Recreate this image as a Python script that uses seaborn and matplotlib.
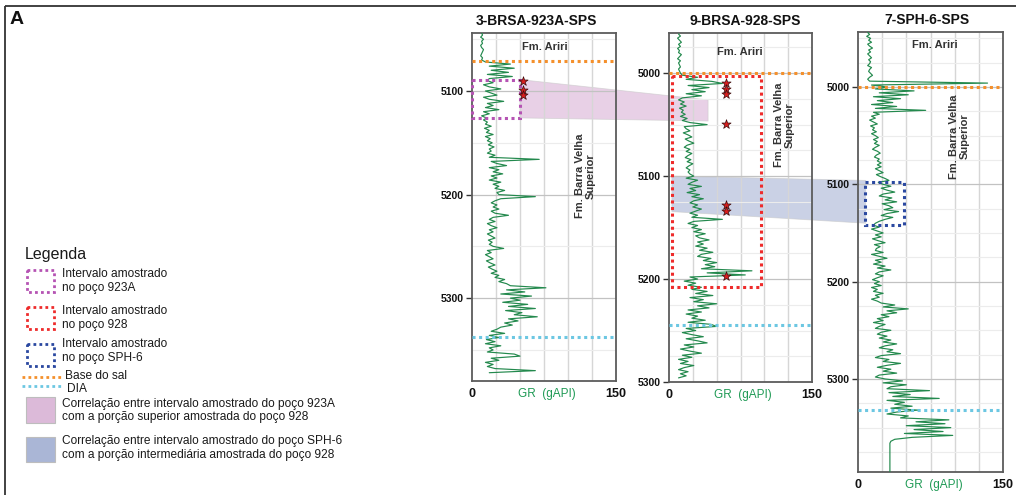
import numpy as np
import pandas as pd
import matplotlib
matplotlib.use("Agg")
import matplotlib.pyplot as plt
import seaborn as sns
from matplotlib.patches import Rectangle, Polygon
from matplotlib.ticker import FixedLocator, MultipleLocator

sns.set_theme(style="white")
plt.rcParams["font.family"] = ["Liberation Sans", "DejaVu Sans"]

# ---------------------------------------------------------------- data
well_names = ["3-BRSA-923A-SPS", "9-BRSA-928-SPS", "7-SPH-6-SPS"]
depth_step = 2.0

# GR (gAPI) sampled every 2 m from the first depth of each log
gr_923a_top = 5044
gr_923a = [10, 11, 9, 12, 10, 11, 9, 10, 12, 11, 10, 9, 11, 10,
           14, 40, 18, 44, 20, 38, 16, 42, 18,
           16, 22, 12, 18, 30, 14, 20, 26, 12, 18, 33, 16, 22, 14, 28, 12, 18, 10, 15,
           12, 16, 14, 20, 13, 18, 15, 22, 14, 19, 16, 21, 17, 23, 18,
           20, 16, 24, 18, 70, 20, 26, 36, 18, 28, 22, 32, 20, 26, 18, 30, 22, 28, 24, 34, 26, 28, 66, 30,
           24, 20, 26, 22, 28, 20, 24, 38,
           22, 18, 24, 16, 20, 26, 18, 22, 16, 20, 24, 17, 21,
           18, 22, 33, 16, 20, 14, 18, 22, 15, 19, 24, 17, 21, 26, 20, 28, 24, 34, 28, 36,
           40, 77, 36, 55, 30, 62, 40, 50, 32, 58, 38, 66, 35, 52, 44, 68, 38, 48, 34, 42, 30,
           26, 20, 34, 18, 28, 15, 24, 14, 30, 18, 22, 16, 44, 50, 20, 28, 14, 22, 16, 24, 66, 18]

gr_928_top = 4962
gr_928 = [10, 12, 9, 11, 13, 10, 12, 9, 11, 10, 13, 11, 9, 12, 10, 11, 12, 10, 11, 12,
          14, 30, 18, 45, 56, 20, 42, 24, 38, 18, 34,
          14, 10, 16, 12, 18, 11, 15, 13, 17, 12, 19, 14, 22, 40, 16,
          18, 22, 15, 20, 24, 17, 21, 26, 19, 16, 22, 18, 24, 20, 17, 23, 19, 25, 21, 18, 22, 20,
          22, 26, 18, 30, 24, 20, 34, 22, 28, 19, 32, 24, 36, 26, 22, 30, 25, 34,
          28, 22, 30, 24, 56, 26, 20, 30, 24, 34,
          26, 38, 28, 32, 42, 30, 36, 28, 40, 32,
          46, 34, 30, 44, 36, 50, 38, 48, 34, 87,
          40, 80, 22, 30, 16, 28, 20, 34, 24, 40,
          28, 46, 22, 36, 26, 50, 30, 42, 20, 34,
          18, 30, 24, 38, 20, 44, 50, 18, 28, 14,
          24, 36, 18, 30, 40, 16, 26, 12, 22, 34,
          14, 24, 10, 20, 12, 26, 16, 10, 20, 12,
          18, 10]

gr_sph6_top = 4944
gr_sph6 = [10, 12, 9, 13, 11, 14, 10, 12, 15, 11, 13, 10, 12, 14, 11, 13, 12, 10, 14, 12, 11, 13, 15, 12, 10, 12,
           134,
           14, 30, 18, 58, 22, 52, 16, 44, 20, 36, 14, 40, 18, 70, 16, 22,
           14, 18, 12, 16, 20, 13, 17, 15, 19, 14, 18, 21, 16, 20, 17, 22, 18, 15, 20, 23, 19, 17, 22, 20, 24,
           20, 24, 18, 22, 26, 19, 23, 28, 32, 21, 26, 34, 24, 30, 38, 26, 22, 35, 28, 40, 25, 32, 36, 27, 42,
           30, 24, 36, 28, 22, 18,
           16, 22, 14, 20, 26, 18, 24, 15, 21, 28, 17, 23, 19,
           18, 26, 14, 22, 30, 18, 24, 16, 28, 20,
           34, 22, 18, 26, 20, 15, 22, 17, 24, 14,
           20, 16, 26, 18, 22, 14, 20, 24, 38, 26,
           52, 30, 40, 24, 32, 20, 26, 16, 28, 22,
           18, 34, 24, 20, 30, 22, 34, 26, 40, 28,
           22, 36, 30, 44, 24, 18, 32, 26, 44, 30,
           20, 34, 26, 40, 22, 18, 28, 46, 26, 50,
           34, 30, 74, 32, 54, 36, 84, 30, 48, 38,
           56, 34, 62, 40, 30, 52, 44, 94, 60, 90,
           50, 96, 58, 88, 48, 98, 56, 38, 34, 33,
           33, 33, 33, 33, 33, 33, 33, 33, 33, 33, 33, 33, 33, 33, 33, 33]

# depth window shown for each well (top, base), m
depth_window = [(5044, 5380), (4961, 5300), (4943.5, 5395.6)]
# formation tops: base of salt and DIA, m
base_sal = [5071, 5000, 5000]
dia = [5338, 5245, 5332]
# sampled intervals: GR from, GR to, depth top, depth base
sampled = [(0, 50, 5089, 5126), (3, 96, 5003, 5208), (7, 48, 5098, 5142)]
sampled_colors = ["#b553b3", "#ee2b2b", "#2a48a0"]
# sample positions (stars)
stars_923a_depth = [5090, 5099, 5104]
stars_923a_gr = [53, 53, 53]
stars_928_depth = [5010, 5015.5, 5020.5, 5049.5, 5128, 5133.5, 5197]
stars_928_gr = [60, 60, 60, 60, 60, 60, 60]
# formation labels: (GR, depth) of text centres
ariri_pos = [(76, 5057.5), (74.5, 4979.7), (79.6, 4956.8)]
bv_pos = [(118, 5182), (120.6, 5050), (104.4, 5051)]
minor_step = [50, 25, 25]
title_x = [0.445, 0.53, 0.478]
# correlations: (well, GR, top, base) -> (well, GR, top, base)
corr_pink = ((0, 50, 5089, 5126), (1, 41, 5026, 5046.5))
corr_blue = ((1, 3, 5100, 5134.5), (2, 8, 5096, 5140))

# ---------------------------------------------------------------- figure
W, H = 1016, 495
fig = plt.figure(figsize=(W / 100, H / 100), dpi=100)
fig.patch.set_facecolor("white")

canvas = fig.add_axes([0, 0, 1, 1], zorder=-1)
canvas.set_xlim(0, W)
canvas.set_ylim(H, 0)
canvas.axis("off")

panel_px = [(472, 33, 616, 381), (669, 33, 812, 382), (858, 32, 1003, 472)]
green = "#23894d"
dot = (0, (1, 1.15))
axes = []

logs = [(gr_923a_top, gr_923a), (gr_928_top, gr_928), (gr_sph6_top, gr_sph6)]

for i, (l, t, r, b) in enumerate(panel_px):
    ax = fig.add_axes([l / W, 1 - b / H, (r - l) / W, (b - t) / H])
    ax.set_facecolor("none")
    top, vals = logs[i]
    depth = top + depth_step * np.arange(len(vals))
    df = pd.DataFrame({"GR": vals, "Depth": depth})
    sns.lineplot(data=df, x="GR", y="Depth", orient="y", sort=False,
                 estimator=None, color=green, lw=0.85, ax=ax, zorder=3)
    ax.set_xlim(0, 150)
    ax.set_ylim(depth_window[i][1], depth_window[i][0])
    ax.set_xlabel("")
    ax.set_ylabel("")

    # grid
    ax.xaxis.set_minor_locator(FixedLocator([25, 50, 75, 100, 125]))
    ax.yaxis.set_minor_locator(MultipleLocator(minor_step[i]))
    ax.grid(False)
    ax.grid(which="minor", axis="x", color="#d6d6d6", lw=1.0, zorder=0)
    ax.grid(which="major", axis="y", color="#c2c2c2", lw=0.9, zorder=0)
    ax.grid(which="minor", axis="y", color="#ececec", lw=0.8, zorder=0)
    ax.set_axisbelow(True)

    yt = [d for d in range(5000, 5400, 100)
          if depth_window[i][0] <= d <= depth_window[i][1]]
    ax.set_yticks(yt, labels=[str(d) for d in yt], fontsize=7.5,
                  fontweight="bold", color="#111")
    ax.set_xticks([0, 150], labels=["0", "150"], fontsize=9,
                  fontweight="bold", color="#111")
    ax.tick_params(axis="y", which="major", left=True, length=4, width=1,
                   color="#333", pad=2)
    ax.tick_params(axis="y", which="minor", left=False)
    ax.tick_params(axis="x", which="both", length=0, pad=5)
    for s in ax.spines.values():
        s.set_visible(True)
        s.set_color("#5c5c5c")
        s.set_linewidth(1.3)

    ax.set_title(well_names[i], fontsize=10, fontweight="bold", pad=6,
                 color="#111", x=title_x[i])
    ax.annotate("GR  (gAPI)", xy=(0.52, 0), xycoords="axes fraction",
                xytext=(0, -9.5), textcoords="offset points",
                ha="center", va="center", fontsize=8.5, color="#1f9a55")

    ax.axhline(base_sal[i], color="#f4902c", ls=dot, lw=2.2, zorder=4)
    ax.axhline(dia[i], color="#6cc7e2", ls=dot, lw=2.2, zorder=4)

    g0, g1, d0, d1 = sampled[i]
    ax.add_patch(Rectangle((g0, d0), g1 - g0, d1 - d0, fill=False,
                           ec=sampled_colors[i], ls=dot, lw=2.2, zorder=5,
                           clip_on=False))

    ax.text(*ariri_pos[i], "Fm. Ariri", ha="center", va="center",
            fontsize=8, fontweight="bold", color="#333")
    ax.text(*bv_pos[i], "Fm. Barra Velha\nSuperior", ha="center",
            va="center", rotation=90, fontsize=8, fontweight="bold",
            color="#333", linespacing=1.1)
    axes.append(ax)

star_kw = dict(marker="*", s=48, color="#d81e1e", edgecolor="#3a0d0d",
               linewidth=0.5, zorder=6, legend=False)
sns.scatterplot(x=stars_923a_gr, y=stars_923a_depth, ax=axes[0], **star_kw)
sns.scatterplot(x=stars_928_gr, y=stars_928_depth, ax=axes[1], **star_kw)
for ax in axes:
    ax.set_xlabel("")
    ax.set_ylabel("")


def to_canvas(ax, x, y):
    disp = ax.transData.transform((x, y))
    return canvas.transData.inverted().transform(disp)


def corr_polygon(spec, color):
    (ia, ga, ta, ba), (ib, gb, tb, bb) = spec
    pts = [to_canvas(axes[ia], ga, ta), to_canvas(axes[ib], gb, tb),
           to_canvas(axes[ib], gb, bb), to_canvas(axes[ia], ga, ba)]
    canvas.add_patch(Polygon(pts, closed=True, fc=color, ec="#c8c8c8",
                             lw=0.6, alpha=0.6))


corr_polygon(corr_pink, "#d9b2d6")
corr_polygon(corr_blue, "#a7b3d5")

# ---------------------------------------------------------------- frame
canvas.plot([5, W], [6, 6], color="#333", lw=1.3, solid_capstyle="butt")
canvas.plot([5, 5], [6, H], color="#333", lw=1.3, solid_capstyle="butt")
canvas.text(10, 20, "A", fontsize=14, fontweight="bold", va="center",
            color="#111")

# ---------------------------------------------------------------- legend
txt_kw = dict(fontsize=8.6, color="#1a1a1a", va="center", ha="left",
              linespacing=1.2)
canvas.text(25, 254, "Legenda", fontsize=11.5, color="#1a1a1a",
            va="center", ha="left")
legend_boxes = [(270, "Intervalo amostrado\nno poço 923A", 281),
                (307, "Intervalo amostrado\nno poço 928", 318),
                (344, "Intervalo amostrado\nno poço SPH-6", 351)]
for (y0, label, ty), col in zip(legend_boxes, sampled_colors):
    canvas.add_patch(Rectangle((27, y0), 27, 22, fill=False, ec=col,
                               ls=dot, lw=2.0))
    canvas.text(62, ty, label, **txt_kw)
canvas.plot([22, 61], [377, 377], color="#f4902c", ls=dot, lw=2.0)
canvas.text(65, 376, "Base do sal", **txt_kw)
canvas.plot([22, 61], [386, 386], color="#6cc7e2", ls=dot, lw=2.0)
canvas.text(67, 389, "DIA", **txt_kw)
canvas.add_patch(Rectangle((26, 397), 29, 26, fc="#dcbad9", ec="#bdbdbd",
                           lw=0.8))
canvas.text(62, 410.5, "Correlação entre intervalo amostrado do poço 923A\n"
            "com a porção superior amostrada do poço 928", **txt_kw)
canvas.add_patch(Rectangle((26, 437), 29, 25, fc="#aab6d6", ec="#bdbdbd",
                           lw=0.8))
canvas.text(62, 448, "Correlação entre intervalo amostrado do poço SPH-6\n"
            "com a porção intermediária amostrada do poço 928", **txt_kw)

fig.savefig("out.png", dpi=100)
